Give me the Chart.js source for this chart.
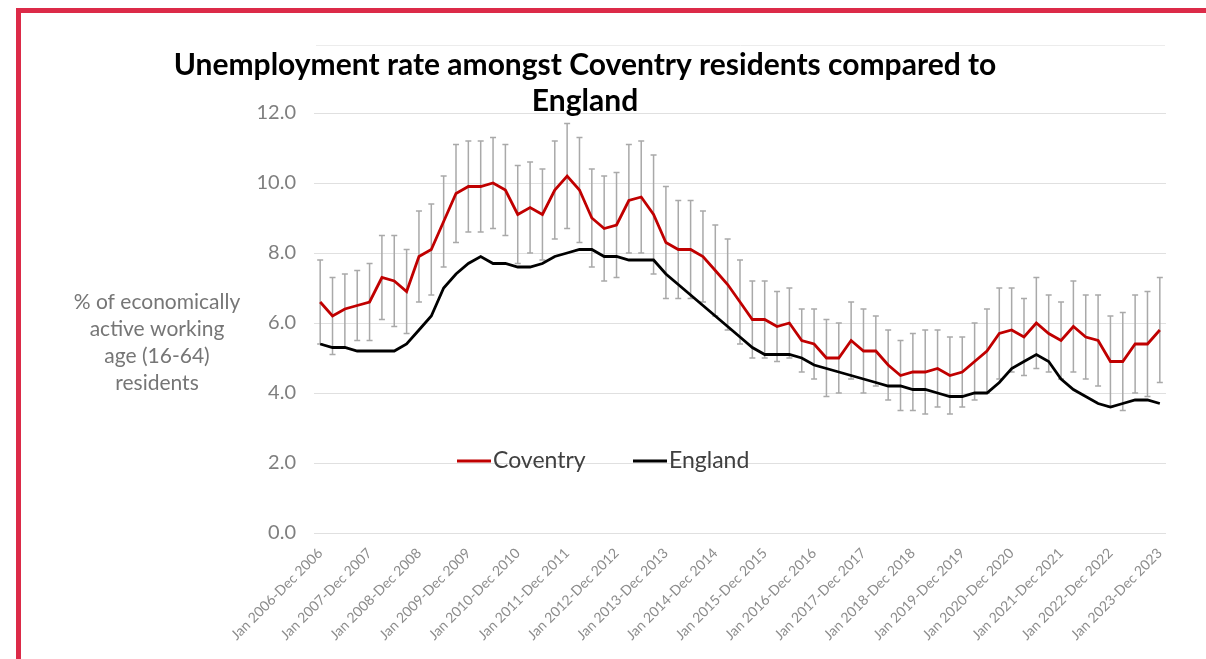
<!DOCTYPE html>
<html>
<head>
<meta charset="utf-8">
<script src="https://cdn.jsdelivr.net/npm/chart.js@4/dist/chart.umd.min.js"></script>
<style>
    body { margin: 0; background: #ffffff; }
    #wrapper { position: relative; width: 1206px; height: 659px; overflow: hidden; }
    #frame { position: absolute; left: 16px; top: 8px; width: 1200px; height: 660px; border-top: 5px solid #dc2a48; border-left: 5px solid #dc2a48; pointer-events: none; }
</style>
</head>
<body>
<div id="wrapper">
    <canvas id="myChart" width="1206" height="659"></canvas>
    <div id="frame"></div>
</div>
<script>

const years = [2006, 2007, 2008, 2009, 2010, 2011, 2012, 2013, 2014, 2015, 2016, 2017, 2018, 2019, 2020, 2021, 2022, 2023];

const coventry = [6.6, 6.2, 6.4, 6.5, 6.6, 7.3, 7.2, 6.9, 7.9, 8.1, 8.9, 9.7, 9.9, 9.9, 10.0, 9.8, 9.1, 9.3, 9.1, 9.8,
    10.2, 9.8, 9.0, 8.7, 8.8, 9.5, 9.6, 9.1, 8.3, 8.1, 8.1, 7.9, 7.5, 7.1, 6.6, 6.1, 6.1, 5.9, 6.0, 5.5,
    5.4, 5.0, 5.0, 5.5, 5.2, 5.2, 4.8, 4.5, 4.6, 4.6, 4.7, 4.5, 4.6, 4.9, 5.2, 5.7, 5.8, 5.6, 6.0, 5.7,
    5.5, 5.9, 5.6, 5.5, 4.9, 4.9, 5.4, 5.4, 5.8];

const coventryUpper = [7.8, 7.3, 7.4, 7.5, 7.7, 8.5, 8.5, 8.1, 9.2, 9.4, 10.2, 11.1, 11.2, 11.2, 11.3, 11.1, 10.5, 10.6, 10.4, 11.2,
    11.7, 11.3, 10.4, 10.2, 10.3, 11.1, 11.2, 10.8, 9.9, 9.5, 9.5, 9.2, 8.8, 8.4, 7.8, 7.2, 7.2, 6.9, 7.0, 6.4,
    6.4, 6.1, 6.0, 6.6, 6.4, 6.2, 5.8, 5.5, 5.7, 5.8, 5.8, 5.6, 5.6, 6.0, 6.4, 7.0, 7.0, 6.7, 7.3, 6.8,
    6.6, 7.2, 6.8, 6.8, 6.2, 6.3, 6.8, 6.9, 7.3];

const coventryLower = [5.4, 5.1, 5.3, 5.5, 5.5, 6.1, 5.9, 5.7, 6.6, 6.8, 7.6, 8.3, 8.6, 8.6, 8.7, 8.5, 7.7, 8.0, 7.8, 8.4,
    8.7, 8.3, 7.6, 7.2, 7.3, 8.0, 8.0, 7.4, 6.7, 6.7, 6.7, 6.6, 6.2, 5.8, 5.4, 5.0, 5.0, 4.9, 5.0, 4.6,
    4.4, 3.9, 4.0, 4.4, 4.0, 4.2, 3.8, 3.5, 3.5, 3.4, 3.6, 3.4, 3.6, 3.8, 4.0, 4.4, 4.6, 4.5, 4.7, 4.6,
    4.4, 4.6, 4.4, 4.2, 3.6, 3.5, 4.0, 3.9, 4.3];

const england = [5.4, 5.3, 5.3, 5.2, 5.2, 5.2, 5.2, 5.4, 5.8, 6.2, 7.0, 7.4, 7.7, 7.9, 7.7, 7.7, 7.6, 7.6, 7.7, 7.9,
    8.0, 8.1, 8.1, 7.9, 7.9, 7.8, 7.8, 7.8, 7.4, 7.1, 6.8, 6.5, 6.2, 5.9, 5.6, 5.3, 5.1, 5.1, 5.1, 5.0,
    4.8, 4.7, 4.6, 4.5, 4.4, 4.3, 4.2, 4.2, 4.1, 4.1, 4.0, 3.9, 3.9, 4.0, 4.0, 4.3, 4.7, 4.9, 5.1, 4.9,
    4.4, 4.1, 3.9, 3.7, 3.6, 3.7, 3.8, 3.8, 3.7];

const yTicks = [0, 2, 4, 6, 8, 10, 12];

const titleLines = ["Unemployment rate amongst Coventry residents compared to", "England"];
const axisNote = ["% of economically", "active working", "age (16-64)", "residents"];

// rolling 12 month periods, one every quarter
const months = ["Jan", "Apr", "Jul", "Oct"];
const endMonths = ["Dec", "Mar", "Jun", "Sep"];
const periods = [];
for (let i = 0; i < coventry.length; i++) {
    const y = years[0] + Math.floor(i / 4);
    const q = i % 4;
    periods.push(`${months[q]} ${y}-${endMonths[q]} ${q === 0 ? y : y + 1}`);
}

const errorBars = {
    id: "errorBars",
    beforeDatasetsDraw: (chart) => {
        const ctx = chart.ctx;
        const x = chart.scales.x;
        const y = chart.scales.y;
        ctx.save();
        ctx.strokeStyle = "#a9a9a9";
        ctx.lineWidth = 1.5;
        for (let i = 0; i < coventry.length; i++) {
            const px = x.getPixelForValue(i);
            const top = y.getPixelForValue(coventryUpper[i]);
            const bottom = y.getPixelForValue(coventryLower[i]);
            ctx.beginPath();
            ctx.moveTo(px, top);
            ctx.lineTo(px, bottom);
            ctx.moveTo(px - 3, top);
            ctx.lineTo(px + 3, top);
            ctx.moveTo(px - 3, bottom);
            ctx.lineTo(px + 3, bottom);
            ctx.stroke();
        }
        ctx.restore();
    }
};

const texts = {
    id: "texts",
    afterDraw: (chart) => {
        const ctx = chart.ctx;
        ctx.save();

        ctx.strokeStyle = "#ececec";
        ctx.lineWidth = 1;
        ctx.beginPath();
        ctx.moveTo(316, 45.5);
        ctx.lineTo(1165, 45.5);
        ctx.stroke();

        ctx.fillStyle = "#000000";
        ctx.font = "bold 30px Lato";
        ctx.textAlign = "center";
        ctx.textBaseline = "middle";
        ctx.fillText(titleLines[0], 585, 65);
        ctx.fillText(titleLines[1], 585, 101);

        ctx.fillStyle = "#767676";
        ctx.font = "21px Lato";
        for (let i = 0; i < axisNote.length; i++) {
            ctx.fillText(axisNote[i], 157, 302 + i * 27);
        }

        const legendItems = chart.data.datasets;
        const spots = [457, 633];
        ctx.font = "23px Lato";
        ctx.textAlign = "left";
        for (let i = 0; i < legendItems.length; i++) {
            ctx.strokeStyle = legendItems[i].borderColor;
            ctx.lineWidth = 3;
            ctx.beginPath();
            ctx.moveTo(spots[i], 461);
            ctx.lineTo(spots[i] + 34, 461);
            ctx.stroke();
            ctx.fillStyle = "#404040";
            ctx.fillText(legendItems[i].label, spots[i] + 36, 461);
        }
        ctx.restore();
    }
};

const ctx = document.getElementById("myChart").getContext("2d");
const myChart = new Chart(ctx, {
    type: "line",
    data: {
        labels: periods,
        datasets: [{
            label: "Coventry",
            data: coventry,
            borderColor: "#c00000",
            borderWidth: 2.8,
            pointRadius: 0,
            tension: 0
        }, {
            label: "England",
            data: england,
            borderColor: "#000000",
            borderWidth: 2.8,
            pointRadius: 0,
            tension: 0
        }]
    },
    options: {
        responsive: false,
        animation: false,
        layout: { padding: { left: 0, right: 40, top: 113, bottom: 0 } },
        plugins: {
            legend: { display: false },
            title: { display: false },
            tooltip: { enabled: false }
        },
        scales: {
            x: {
                offset: true,
                grid: { display: false, drawTicks: false },
                border: { display: false },
                ticks: {
                    autoSkip: false,
                    maxRotation: 45,
                    minRotation: 45,
                    padding: 12,
                    color: "#8c8c8c",
                    font: { family: "Lato", size: 14 },
                    callback: function (value, index) {
                        return index % 4 === 0 ? this.getLabelForValue(value) : null;
                    }
                },
                afterFit: (scale) => { scale.height = 126; }
            },
            y: {
                min: yTicks[0],
                max: yTicks[yTicks.length - 1],
                grid: { color: "#e0e0e0", lineWidth: 1, drawTicks: false },
                border: { display: false },
                afterBuildTicks: (scale) => { scale.ticks = yTicks.map(v => ({ value: v })); },
                ticks: {
                    padding: 18,
                    color: "#7f7f7f",
                    font: { family: "Lato", size: 20 },
                    callback: (value) => value.toFixed(1)
                },
                afterFit: (scale) => { scale.width = 314; }
            }
        }
    },
    plugins: [errorBars, texts]
});

</script>
</body>
</html>
